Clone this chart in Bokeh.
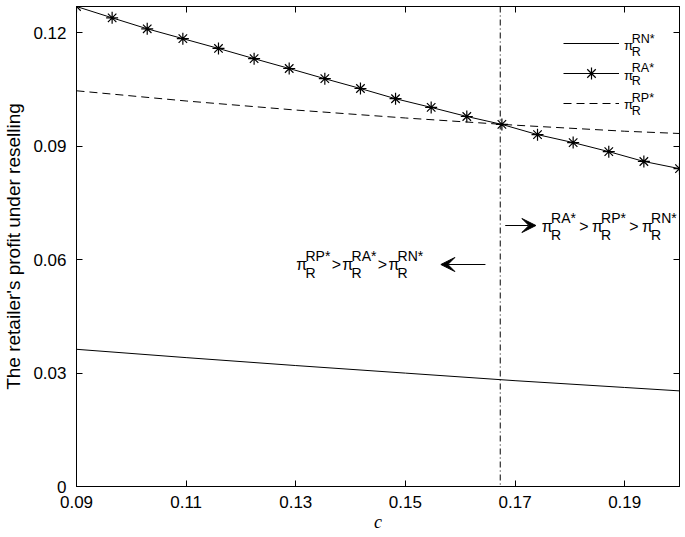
from bokeh.plotting import figure
from bokeh.models import (Range1d, FixedTicker, LinearAxis, Span, Label, Arrow,
                          VeeHead, Legend, LegendItem)
from bokeh.core.properties import value
from bokeh.embed import file_html
from bokeh.resources import INLINE

# ---------------- data ----------------
c_ra = [0.0900, 0.0965, 0.1029, 0.1094, 0.1159, 0.1224, 0.1288, 0.1353, 0.1418,
        0.1482, 0.1547, 0.1612, 0.1676, 0.1741, 0.1806, 0.1871, 0.1935, 0.2000]
profit_ra = [0.1270, 0.1240, 0.1211, 0.1185, 0.1159, 0.1132, 0.1106, 0.1079, 0.1053,
             0.1026, 0.1003, 0.0979, 0.0958, 0.0931, 0.0910, 0.0886, 0.0860, 0.0841]
c_rn = [0.09, 0.11, 0.13, 0.15, 0.17, 0.19, 0.20]
profit_rn = [0.0363, 0.0341, 0.0320, 0.0300, 0.0280, 0.0262, 0.0253]
c_rp = [0.09, 0.11, 0.13, 0.15, 0.17, 0.19, 0.20]
profit_rp = [0.1047, 0.1020, 0.0996, 0.0975, 0.0956, 0.0940, 0.0934]
c_star = 0.1673

x_ticks = [0.09, 0.11, 0.13, 0.15, 0.17, 0.19]
x_tick_labels = ["0.09", "0.11", "0.13", "0.15", "0.17", "0.19"]
y_ticks = [0, 0.03, 0.06, 0.09, 0.12]
y_tick_labels = ["0", "0.03", "0.06", "0.09", "0.12"]
x_title = "c"
y_title = "The retailer's profit under reselling"
series_sup = ["RN*", "RA*", "RP*"]
left_note = ["RP*", "RA*", "RN*"]
right_note = ["RA*", "RP*", "RN*"]

# ---------------- layout ----------------
W, H = 685, 537
ML, MR, MT, MB = 70, 6, 6, 51
X0, X1, Y0, Y1 = 0.09, 0.2, 0.0, 0.127
FONT = "Liberation Sans"

p = figure(width=W, height=H, output_backend="svg", toolbar_location=None,
           x_range=Range1d(X0, X1), y_range=Range1d(Y0, Y1),
           min_border_left=ML, min_border_right=MR, min_border_top=MT,
           min_border_bottom=MB, background_fill_color="white",
           border_fill_color="white", outline_line_color="black")
p.grid.visible = False

fw = W - ML - MR
fh = H - MT - MB


def dx(px):  # picture pixel -> data x
    return X0 + (px - ML) / fw * (X1 - X0)


def dy(py):
    return Y1 - (py - MT) / fh * (Y1 - Y0)


def style_axis(ax, ticks, labels=None):
    ax.ticker = FixedTicker(ticks=ticks)
    ax.axis_line_color = "black"
    ax.major_tick_line_color = "black"
    ax.major_tick_in = 6
    ax.major_tick_out = 0
    ax.minor_tick_line_color = None
    ax.major_label_text_font = FONT
    ax.major_label_text_font_size = "17px"
    ax.major_label_text_color = "black"
    if labels is None:
        ax.major_label_overrides = {t: "" for t in ticks}
        ax.major_label_standoff = 0
    else:
        ax.major_label_overrides = dict(zip(ticks, labels))


xb = p.xaxis[0]
style_axis(xb, x_ticks, x_tick_labels)
xb.major_label_standoff = 9
xb.axis_label = x_title
xb.axis_label_text_font = "Liberation Serif"
xb.axis_label_text_font_style = "italic"
xb.axis_label_text_font_size = "18px"
xb.axis_label_text_color = "black"
xb.axis_label_standoff = 1

yl = p.yaxis[0]
style_axis(yl, y_ticks, y_tick_labels)
yl.major_label_standoff = 10
yl.axis_label = y_title
yl.axis_label_text_font = FONT
yl.axis_label_text_font_style = "normal"
yl.axis_label_text_font_size = "19px"
yl.axis_label_text_color = "black"
yl.axis_label_standoff = 6

xt = LinearAxis()
style_axis(xt, x_ticks)
p.add_layout(xt, "above")
yr = LinearAxis()
style_axis(yr, y_ticks)
p.add_layout(yr, "right")

# ---------------- series ----------------
r_rn = p.line(c_rn, profit_rn, line_color="black", line_width=1)
r_ra = p.line(c_ra, profit_ra, line_color="black", line_width=1)
r_ram = p.scatter(c_ra, profit_ra, marker="asterisk", size=12, line_color="black",
                  line_width=1.2)
r_rp = p.line(c_rp, profit_rp, line_color="black", line_width=1, line_dash="8 5")

p.add_layout(Span(location=c_star, dimension="height", line_color="black",
                  line_width=1, line_dash="6 3 1 3"))

legend = Legend(items=[LegendItem(label=value(" "), renderers=[r_rn]),
                       LegendItem(label=value(" "), renderers=[r_ra, r_ram]),
                       LegendItem(label=value(" "), renderers=[r_rp])],
                location="top_right", margin=22, padding=0, spacing=0,
                glyph_width=56, glyph_height=30, label_height=30,
                label_standoff=0, label_width=38,
                background_fill_alpha=0, border_line_alpha=0)
p.add_layout(legend)

# ---------------- math-like labels ----------------
W_EM = {"R": 0.722, "A": 0.667, "P": 0.667, "N": 0.722, "*": 0.389}


def tw(s, fs):
    return sum(W_EM[ch] for ch in s) * fs


def put(x, y, s, fs):
    p.add_layout(Label(x=dx(x), y=dy(y), text=s, text_font=FONT,
                       text_font_size=f"{fs}px", text_color="black",
                       text_align="left", text_baseline="middle"))


def term(x, y, sup, fpi, fs, up, down):
    put(x, y, "\u03c0", fpi)
    x += 0.58 * fpi
    put(x, y + up, sup, fs)
    put(x, y + down, "R", fs)
    return x + tw(sup, fs)


def chain(x, y, sups, fpi=16, fs=14, fgt=16, up=-9, down=8, gap=1.5):
    for i, s in enumerate(sups):
        x = term(x, y, s, fpi, fs, up, down)
        if i < len(sups) - 1:
            x += gap
            put(x, y, ">", fgt)
            x += 0.584 * fgt + gap


for i, s in enumerate(series_sup):
    term(623, 45 + 29.5 * i, s, 13.5, 12.5, -7, 6)

chain(292, 264, left_note)
chain(540, 226, right_note, gap=3.5)

p.add_layout(Arrow(x_start=dx(483), y_start=dy(264), x_end=dx(438), y_end=dy(264),
                   line_color="black", line_width=1.2,
                   end=VeeHead(size=14, fill_color="black", line_color="black")))
p.add_layout(Arrow(x_start=dx(503), y_start=dy(225), x_end=dx(534), y_end=dy(225),
                   line_color="black", line_width=1.2,
                   end=VeeHead(size=14, fill_color="black", line_color="black")))

open("out.html", "w").write(file_html(p, INLINE))
